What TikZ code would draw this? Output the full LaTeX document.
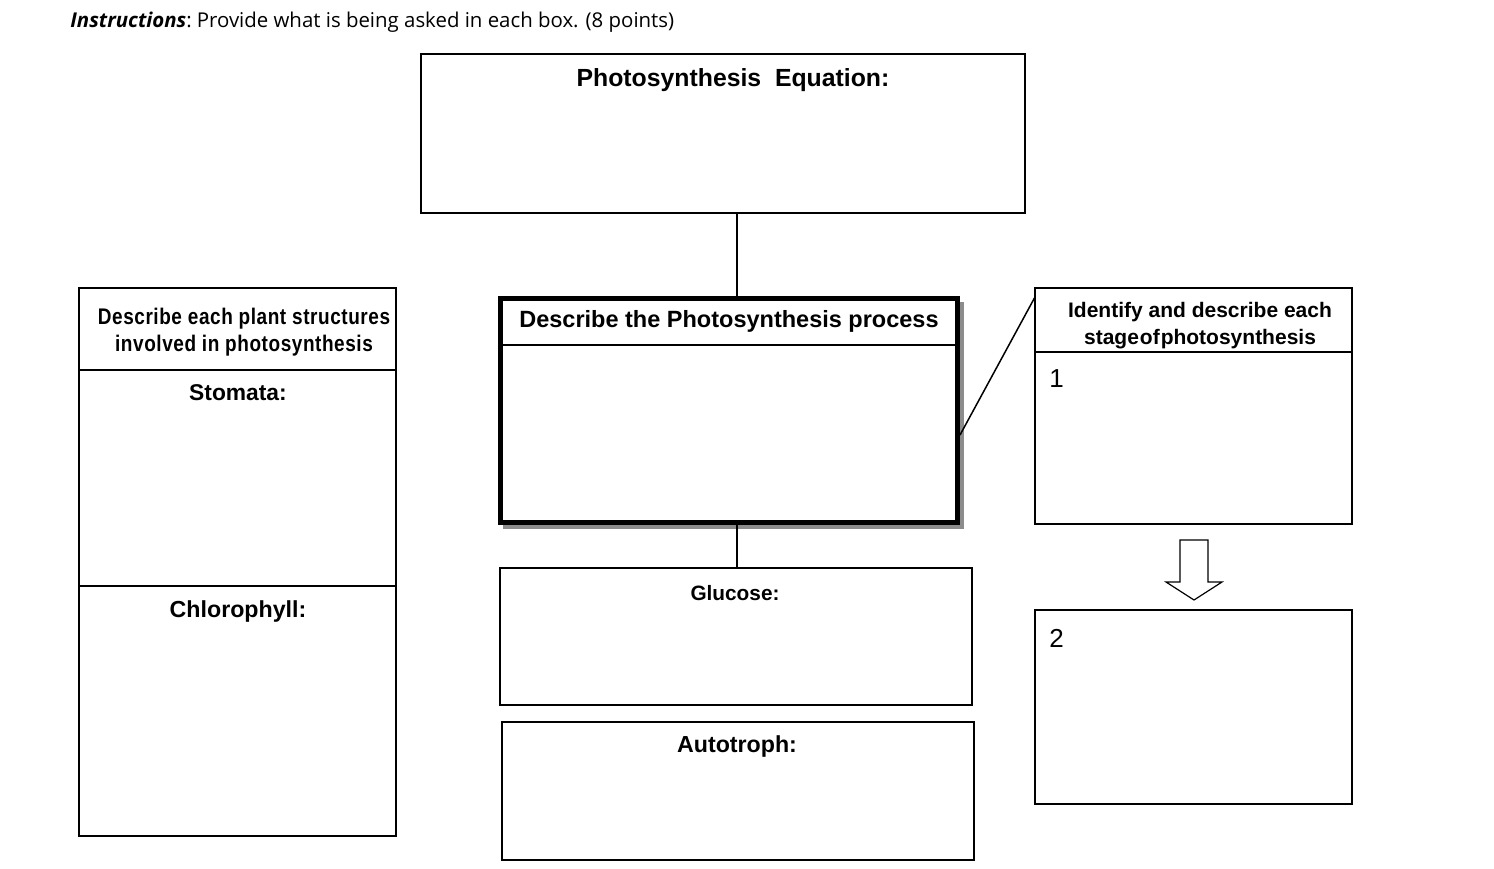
\documentclass[tikz,border=0pt]{standalone}
\usepackage{fontspec}
\setmainfont{Liberation Sans}
\newfontfamily\instrfont{Open Sans}
\newfontfamily\narrowfont[FakeStretch=0.84,LetterSpace=2.5]{Liberation Sans}
\usetikzlibrary{calc}
\begin{document}
\begin{tikzpicture}[x=0.5pt,y=-0.5pt,
  box/.style={draw=black,line width=0.75pt,inner sep=0pt,outer sep=0pt,anchor=north west,fill=white},
  lbl/.style={anchor=base,inner sep=0pt,font=\bfseries\fontsize{11.6}{13}\selectfont},
  conn/.style={draw=black,line width=0.75pt}]
\path[fill=white] (0,0) rectangle (1494,868);
\useasboundingbox (0,0) rectangle (1494,868);

% instruction line
\node[anchor=base west,inner sep=0pt,font=\instrfont\fontsize{10.2}{12}\selectfont] (instr) at (70,27)
  {\textbf{\textit{Instructions}}:\kern-1pt{} Provide what is being asked in each box. (8 points)};

% boxes
\node[box,minimum width=302pt,minimum height=79.5pt] (top) at (421,54) {};
\fill[black!45] (503,302) rectangle (964,529);
\node[box,line width=2.5pt,minimum width=228.5pt,minimum height=112pt] (center) at (500.5,298.5) {};
\node[box,minimum width=236pt,minimum height=68.5pt] (gluc) at (500,568) {};
\node[box,minimum width=236pt,minimum height=69pt] (auto) at (502,722) {};
\node[box,minimum width=158.5pt,minimum height=274pt] (left) at (79,288) {};
\node[box,minimum width=158.5pt,minimum height=118pt] (r1) at (1035,288) {};
\node[box,minimum width=158.5pt,minimum height=97pt] (r2) at (1035,610) {};

% dividers
\draw[conn] ([yshift=-23.25pt]center.north west) -- ([yshift=-23.25pt]center.north east);
\draw[conn] ([yshift=-41pt]left.north west) -- ([yshift=-41pt]left.north east);
\draw[conn] ([yshift=-149pt]left.north west) -- ([yshift=-149pt]left.north east);
\draw[conn] ([yshift=-32pt]r1.north west) -- ([yshift=-32pt]r1.north east);

% connectors
\coordinate (spine) at (737,0);
\draw[conn] (top.south -| spine) -- ([yshift=1.25pt]center.north -| spine);
\draw[conn] ([yshift=-1.25pt]center.south -| spine) -- (gluc.north -| spine);
\coordinate (c1) at (960,435);
\draw[conn] (c1) -- ($(r1.north west)+(0,9)$);

% hollow arrow
\draw[line width=0.6pt,fill=white] (1180,540) -- (1208,540) -- (1208,582) -- (1222,582) -- (1194,600) -- (1166,582) -- (1180,582) -- cycle;

% labels
\node[lbl,font=\bfseries\fontsize{12.4}{14}\selectfont] (teq) at (733,86) {Photosynthesis\ \ Equation:};
\node[lbl,font=\bfseries\fontsize{11.75}{14}\selectfont] (tcen) at (729,327) {Describe the Photosynthesis process};
\node[lbl,font=\bfseries\fontsize{10.4}{12}\selectfont] (tglu) at (735,600) {Glucose:};
\node[lbl] (taut) at (737,752) {Autotroph:};
\node[lbl,font=\bfseries\fontsize{11.4}{13}\selectfont] (tsto) at (238,400) {Stomata:};
\node[lbl] (tchl) at (238,617) {Chlorophyll:};
\node[anchor=base,inner sep=0pt,font=\narrowfont\bfseries\fontsize{11.3}{13}\selectfont] (tl1) at (244,324) {Describe each plant structures};
\node[anchor=base,inner sep=0pt,font=\narrowfont\bfseries\fontsize{11.3}{13}\selectfont] (tl2) at (244,351) {involved in photosynthesis};
\node[lbl,font=\bfseries\fontsize{10.5}{12}\selectfont] (tr1) at (1200,317) {Identify and describe each};
\node[lbl,font=\bfseries\fontsize{10.5}{12}\selectfont] (tr2) at (1200,344) {stage\kern0.5pt of\kern0.5pt photosynthesis};
\node[anchor=base west,inner sep=0pt,font=\fontsize{13}{15}\selectfont] (n1) at (1049,387) {1};
\node[anchor=base west,inner sep=0pt,font=\fontsize{13}{15}\selectfont] (n2) at (1049,647) {2};
\end{tikzpicture}
\end{document}
